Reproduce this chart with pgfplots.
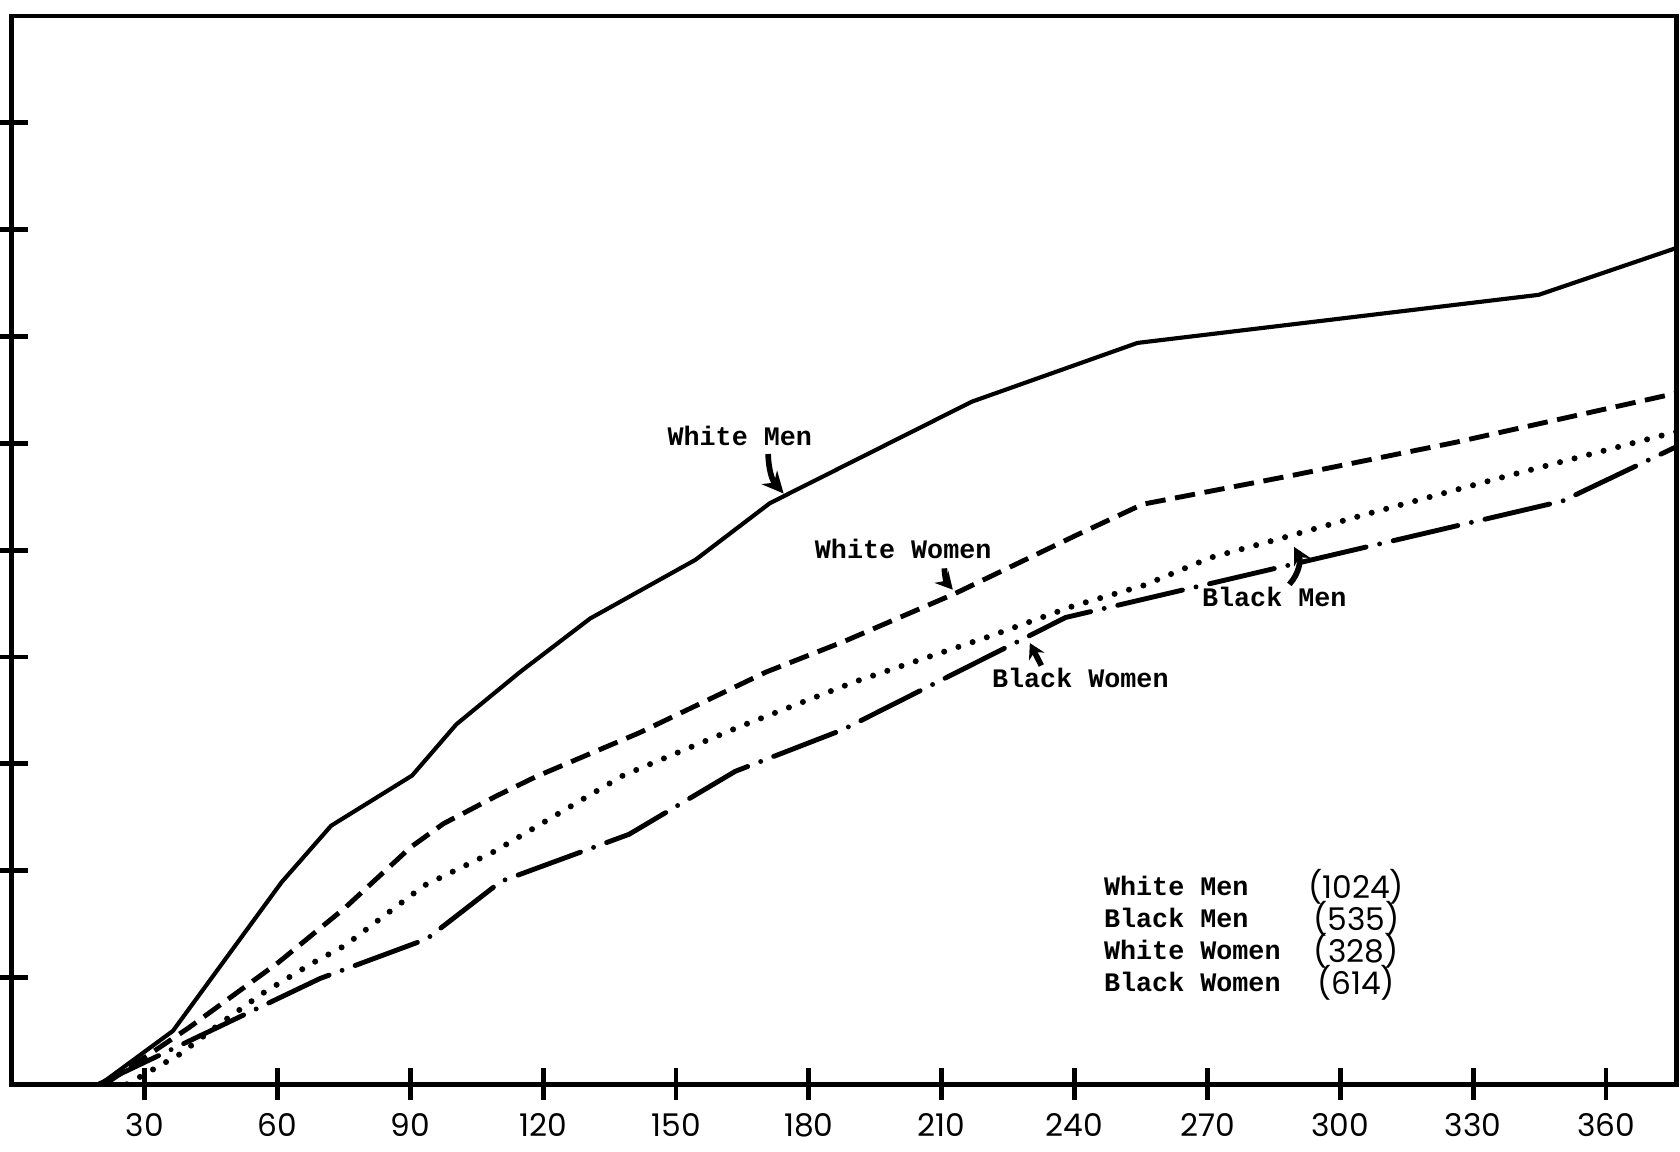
\documentclass[border=0pt]{standalone}
\usepackage{fontspec}
\setmainfont{Liberation Mono}
\newfontfamily\numfont{Poppins}
\usepackage{pgfplots}
\pgfplotsset{compat=1.18}
\usetikzlibrary{arrows.meta}

\begin{document}
\begin{tikzpicture}
\begin{axis}[name=ax, scale only axis, width=155.4mm, height=99.7mm,
  xmin=0, xmax=376, ymin=0, ymax=100,
  axis line style={line width=1.3pt},
  xtick={30,60,...,360}, ytick={10,20,...,90},
  yticklabels={},
  tick pos=left,
  tick align=center, major tick length=3mm,
  tick style={line width=1.3pt, black},
  xticklabel style={font=\numfont\fontsize{8.3}{9}\selectfont, yshift=0mm},
  /pgf/number format/assume math mode=true,
  clip=true]

% White Men (solid)
\addplot[black, line width=1.1pt, mark=none] coordinates {
(20,0) (36.4,5.0) (60.9,18.9) (72.1,24.2) (90.4,28.9) (100.4,33.7) (114.8,38.6)
(130.6,43.6) (154.4,49.1) (171.2,54.4) (195.2,59.4) (216.8,63.9) (254.2,69.4)
(344.8,73.9) (376,78.3)};

% White Women (dashed)
\addplot[black, line width=1.3pt, mark=none, dash pattern=on 1.9mm off 0.9mm] coordinates {
(21,0) (40.0,5.3) (60.2,11.4) (75.2,16.5) (90.1,22.2) (97.5,24.4) (109.5,27.0)
(118.4,28.8) (141.7,32.9) (170.4,38.6) (188.2,41.5) (212.8,45.9) (240.4,51.4)
(255.4,54.3) (289.2,57.0) (326.1,60.1) (376,64.7)};

% Black Men (dotted)
\addplot[black, line width=1.6pt, mark=none, line cap=round, dash pattern=on 0pt off 1.4mm] coordinates {
(26,0) (37.9,2.8) (46.8,5.6) (56.6,8.5) (67.7,11.3) (75.3,13.0) (86.4,16.5)
(93.1,18.6) (109.0,21.8) (138.0,28.9) (164.5,33.5) (190.5,37.7) (220.6,41.9)
(239.9,44.8) (255.6,46.7) (270.7,49.3) (285.7,51.0) (305.3,53.3) (337.3,56.9)
(358.5,59.2) (376,61.1)};

% Black Women (dash-dot)
\addplot[black, line width=1.3pt, mark=none, line cap=round, dash pattern=on 6.2mm off 1.3mm on 0pt off 1.3mm] coordinates {
(19.6,0) (69.6,9.9) (93.7,13.6) (110.5,19.0) (139.4,23.4) (163.4,29.3)
(187.7,33.2) (238.0,43.7) (350.2,54.6) (376,59.7)};

% annotations
\node[font=\bfseries\fontsize{7.1}{8.5}\selectfont] at (axis cs:164.4,60.7) {White Men};
\draw[line width=1.5pt, -{Stealth[length=2mm,width=1.9mm]}] (axis cs:170.8,59.0) to[bend right=20] (axis cs:174.3,55.3);

\node[font=\bfseries\fontsize{7.1}{8.5}\selectfont] at (axis cs:201.3,50.1) {White Women};
\draw[line width=1.5pt, -{Stealth[length=1.6mm,width=1.7mm]}] (axis cs:210.6,48.3) to[bend right=20] (axis cs:212.5,46.3);

\node[font=\bfseries\fontsize{7.1}{8.5}\selectfont] at (axis cs:241.3,38.0) {Black Women};
\draw[line width=1.5pt, -{Stealth[length=1.4mm,width=1.6mm]}] (axis cs:232.5,39.2) -- (axis cs:229.9,41.3);

\node[font=\bfseries\fontsize{7.1}{8.5}\selectfont] at (axis cs:285.1,45.6) {Black Men};
\draw[line width=1.5pt, -{Stealth[length=1.6mm,width=1.7mm]}] (axis cs:288.5,46.8) to[bend right=35] (axis cs:289.6,50.3);

% legend block
\node[anchor=base west, inner sep=0pt, font=\bfseries\fontsize{7.1}{8.5}\selectfont] at (axis cs:246.5,17.7) {White Men};
\node[anchor=base west, inner sep=0pt, font=\bfseries\fontsize{7.1}{8.5}\selectfont] at (axis cs:246.5,14.7) {Black Men};
\node[anchor=base west, inner sep=0pt, font=\bfseries\fontsize{7.1}{8.5}\selectfont] at (axis cs:246.5,11.7) {White Women};
\node[anchor=base west, inner sep=0pt, font=\bfseries\fontsize{7.1}{8.5}\selectfont] at (axis cs:246.5,8.7) {Black Women};
\node[anchor=base, inner sep=0pt, font=\numfont\fontsize{8.3}{9}\selectfont] at (axis cs:303.6,17.4) {(1024)};
\node[anchor=base, inner sep=0pt, font=\numfont\fontsize{8.3}{9}\selectfont] at (axis cs:303.6,14.4) {(535)};
\node[anchor=base, inner sep=0pt, font=\numfont\fontsize{8.3}{9}\selectfont] at (axis cs:303.6,11.4) {(328)};
\node[anchor=base, inner sep=0pt, font=\numfont\fontsize{8.3}{9}\selectfont] at (axis cs:303.6,8.4) {(614)};
\end{axis}
\pgfresetboundingbox
\path[use as bounding box] ([xshift=-1.1mm,yshift=-6.3mm]ax.south west) rectangle ([xshift=0.3mm,yshift=1.5mm]ax.north east);
\end{tikzpicture}
\end{document}
